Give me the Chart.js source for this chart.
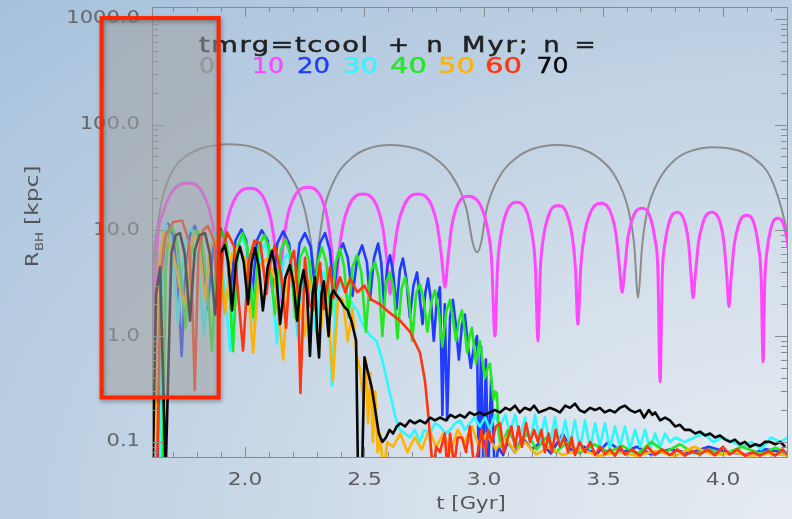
<!DOCTYPE html>
<html>
<head>
<meta charset="utf-8">
<script src="https://cdn.jsdelivr.net/npm/chart.js@4.4.1/dist/chart.umd.min.js"></script>
<style>
  html, body { margin: 0; padding: 0; }
  body {
    width: 792px; height: 519px; overflow: hidden;
    background: radial-gradient(ellipse at 100% 100%, #e6ecf2 0%, #d8e2ec 30%, #c8d7e6 50%, #bacee2 70%, #a5c1dc 100%);
  }
</style>
</head>
<body>
<canvas id="chart" width="792" height="519"></canvas>
<script>
// axis ranges and labels
const xMin = 1.611, xMax = 4.268;
const yMin = 0.072, yMax = 1290;
const xTickVals = [2.0, 2.5, 3.0, 3.5, 4.0];
const yTickVals = [0.1, 1, 10, 100, 1000];
const yTickText = ['0.1', '1.0', '10.0', '100.0', '1000.0'];
const nLabels = ['0', '10', '20', '30', '40', '50', '60', '70'];
// highlighted region, in data units
const boxT = [1.40, 1.89];
const boxR = [0.263, 1014];

// R_BH [kpc] vs t [Gyr], one run per delay n (Myr)
const n0 = [[1.611,0.45],[1.615,3],[1.632,10],[1.652,19],[1.674,28],[1.705,39],[1.741,48],[1.812,59],[1.87,63],[1.925,65],
  [2.035,61],[2.109,51],[2.186,34],[2.249,16],[2.275,8],[2.293,4],
  [2.309,7.6],[2.331,15.8],[2.384,33],[2.45,49],[2.513,59],[2.607,64],[2.716,59],[2.789,49],[2.865,33],[2.927,15.8],[2.953,7.6],[2.971,6.2],
  [2.988,7.6],[3.011,15.8],[3.068,33],[3.139,49],[3.206,59],[3.306,64],[3.408,59],[3.475,49],[3.547,33],[3.604,15.8],[3.628,7.6],[3.645,2.3],
  [3.662,7.2],[3.683,15],[3.736,31],[3.802,47],[3.864,56],[3.958,61],[4.061,57],[4.129,48],[4.201,31],[4.259,12],[4.283,6]];

const n10 = [[1.614,0.5],[1.632,7],[1.657,14.6],[1.688,21.8],[1.718,26.3],[1.762,28],[1.801,26.3],[1.827,21.8],[1.854,14.6],[1.876,7],[1.891,1.5],
  [1.907,6.25],[1.929,13],[1.956,19.5],[1.982,23.5],[2.021,25],[2.057,23.5],[2.082,19.5],[2.107,13],[2.128,6.25],[2.142,2.0],
  [2.157,6.4],[2.177,13.3],[2.203,19.9],[2.227,24],[2.264,25.5],[2.298,24],[2.321,19.9],[2.344,13.3],[2.363,6.4],[2.377,2.5],
  [2.391,5.5],[2.411,11.4],[2.436,17.2],[2.459,20.7],[2.494,22],[2.528,20.7],[2.551,17.2],[2.574,11.4],[2.593,5.5],[2.607,2.5],
  [2.621,5.5],[2.641,11.4],[2.666,17.2],[2.689,20.7],[2.724,22],[2.758,20.7],[2.781,17.2],[2.804,11.4],[2.823,5.5],[2.837,2.9],
  [2.849,5.25],[2.865,10.9],[2.885,16.4],[2.904,19.7],[2.933,21],[2.967,19.7],[2.99,16.4],[3.013,10.9],[3.032,5.25],[3.046,1.0],
  [3.057,4.6],[3.073,9.6],[3.092,14.4],[3.11,17.3],[3.138,18.4],[3.164,17.3],[3.182,14.4],[3.2,9.6],[3.215,4.6],[3.226,0.9],
  [3.236,4.3],[3.25,8.9],[3.268,13.4],[3.285,16.2],[3.31,17.2],[3.335,16.2],[3.351,13.4],[3.369,8.9],[3.383,4.3],[3.393,1.3],
  [3.405,4.5],[3.421,9.4],[3.442,14],[3.461,16.9],[3.49,18],[3.516,16.9],[3.534,14],[3.552,9.4],[3.567,4.5],[3.578,2.6],
  [3.588,4.05],[3.602,8.4],[3.62,12.6],[3.636,15.2],[3.661,16.2],[3.684,15.2],[3.699,12.6],[3.715,8.4],[3.728,4.05],[3.737,0.37],
  [3.746,3.7],[3.758,7.7],[3.773,11.5],[3.787,13.9],[3.808,14.8],[3.828,13.9],[3.842,11.5],[3.856,7.7],[3.867,3.7],[3.875,2.3],
  [3.884,3.7],[3.898,7.7],[3.915,11.5],[3.93,13.9],[3.954,14.8],[3.975,13.9],[3.99,11.5],[4.004,7.7],[4.016,3.7],[4.025,1.9],
  [4.034,3.5],[4.047,7.2],[4.063,10.8],[4.078,13.1],[4.1,13.9],[4.12,13.1],[4.134,10.8],[4.148,7.2],[4.16,3.5],[4.168,0.57],
  [4.175,3.25],[4.186,6.8],[4.199,10.1],[4.211,12.2],[4.23,13],[4.248,12.2],[4.26,10.1],[4.273,6.8],[4.283,3.25]];

const n20 = [[1.64,0.05],[1.652,3],[1.662,8],[1.678,11.5],[1.70,9],[1.72,3],[1.735,0.65],[1.75,3.5],[1.77,9],[1.79,11],[1.815,8],[1.843,1.8],
  [1.87,8],[1.895,10.5],[1.92,8],[1.94,2.5],[1.96,8],[1.985,10.2],[2.005,8],[2.028,2.2],[2.05,8],[2.07,10],[2.095,8],[2.115,2.6],
  [2.135,7.5],[2.16,9.8],[2.185,7.5],[2.205,2.4],[2.228,7.5],[2.251,9.4],[2.275,7],[2.293,2.8],[2.313,7.5],[2.335,9.4],[2.355,6.5],[2.372,2.6],
  [2.39,6],[2.41,7.5],[2.43,5.5],[2.45,2.4],[2.47,5.5],[2.49,7.2],[2.51,5],[2.523,2.2],[2.54,5.5],[2.557,7.5],[2.57,5],[2.582,2.0],
  [2.595,4.5],[2.607,5.8],[2.62,4],[2.634,1.8],[2.648,4.2],[2.661,5.4],[2.675,3.5],[2.69,1.5],[2.705,3],[2.72,4.0],[2.73,2.5],[2.743,1.3],
  [2.755,2.6],[2.766,3.5],[2.778,2.2],[2.79,0.9],[2.803,2.2],[2.816,2.9],[2.826,0.18],[2.836,2.0],[2.846,0.16],[2.858,1.5],[2.87,2.2],
  [2.882,1.3],[2.895,0.6],[2.908,1.3],[2.92,1.6],[2.933,0.8],[2.945,0.5],[2.958,0.8],[2.971,1.0],[2.978,0.05],[2.988,0.8],[2.998,0.05],
  [3.008,0.6],[3.018,0.05],[3.03,0.4],[3.045,0.05],[3.06,0.09],[3.08,0.075],[3.10,0.1],[3.13,0.08],[3.16,0.11],[3.20,0.085],[3.24,0.1],
  [3.28,0.078],[3.33,0.12],[3.37,0.08],[3.42,0.09],[3.47,0.076],[3.52,0.1],[3.58,0.08],[3.64,0.09],[3.70,0.076],[3.78,0.085],[3.86,0.078],
  [3.94,0.09],[4.02,0.08],[4.10,0.076],[4.18,0.085],[4.28,0.078]];

const n30 = [[1.645,0.05],[1.655,6],[1.67,11.5],[1.69,8],[1.71,2.5],[1.72,1.3],[1.735,4],[1.755,9],[1.775,10.5],[1.795,8],[1.815,2.5],[1.83,1.0],
  [1.845,4],[1.86,8],[1.875,9.5],[1.895,7],[1.92,2],[1.937,0.73],[1.955,3.5],[1.975,7.5],[1.99,8.5],[2.01,6.5],[2.03,2.5],[2.04,1.2],
  [2.055,3.5],[2.07,6.5],[2.085,7.5],[2.105,5],[2.125,1.5],[2.134,0.85],[2.145,3],[2.165,5.5],[2.18,6],[2.2,4],[2.22,1.0],[2.24,3.5],
  [2.26,5],[2.278,3.5],[2.296,1.1],[2.313,3],[2.33,4],[2.347,2.5],[2.364,0.34],[2.38,2.2],[2.40,3.3],[2.42,2.6],[2.44,2.2],[2.455,1.9],
  [2.47,1.75],[2.485,1.4],[2.50,1.2],[2.525,1.0],[2.55,0.9],[2.565,0.7],[2.575,0.59],[2.59,0.42],[2.60,0.33],[2.615,0.24],[2.63,0.17],
  [2.648,0.13],[2.67,0.12],[2.69,0.11],[2.71,0.13],[2.732,0.1],[2.75,0.13],[2.774,0.12],[2.795,0.15],[2.816,0.14],[2.84,0.12],[2.858,0.13],
  [2.88,0.15],[2.9,0.16],[2.92,0.13],[2.941,0.15],[2.96,0.17],[2.983,0.14],[3.005,0.17],[3.025,0.13],[3.045,0.18],[3.067,0.14],[3.09,0.18],
  [3.109,0.12],[3.13,0.18],[3.151,0.11],[3.172,0.17],[3.193,0.1],[3.214,0.18],[3.234,0.1],[3.255,0.17],[3.276,0.095],[3.297,0.17],[3.318,0.09],
  [3.34,0.16],[3.36,0.09],[3.38,0.16],[3.402,0.085],[3.423,0.16],[3.444,0.085],[3.465,0.15],[3.485,0.09],[3.506,0.15],[3.527,0.085],
  [3.548,0.14],[3.569,0.09],[3.59,0.14],[3.611,0.085],[3.632,0.13],[3.653,0.09],[3.674,0.13],[3.695,0.085],[3.716,0.12],[3.737,0.09],
  [3.758,0.12],[3.778,0.1],[3.80,0.11],[3.84,0.1],[3.88,0.11],[3.92,0.12],[3.96,0.1],[4.0,0.11],[4.04,0.1],[4.08,0.09],[4.12,0.1],
  [4.16,0.085],[4.2,0.11],[4.24,0.1],[4.27,0.11]];

const n40 = [[1.655,0.05],[1.668,4],[1.68,9],[1.695,11],[1.715,8],[1.74,2.5],[1.752,1.2],[1.765,4],[1.785,9],[1.80,10],[1.82,8],[1.845,2.5],
  [1.862,0.73],[1.878,4],[1.895,8.5],[1.905,9.8],[1.925,7],[1.95,0.72],[1.97,7],[1.99,9.4],[2.01,7],[2.035,1.5],[2.058,7],[2.08,9.0],
  [2.10,7],[2.125,1.6],[2.15,6.5],[2.17,8.2],[2.19,6],[2.21,1.5],[2.23,5.5],[2.251,6.9],[2.27,5],[2.287,1.8],[2.305,5],[2.322,6.9],
  [2.34,5],[2.36,1.6],[2.38,5],[2.398,6.7],[2.415,4.5],[2.433,1.5],[2.45,4.5],[2.469,5.8],[2.487,4],[2.506,1.1],[2.525,4],[2.544,5.0],
  [2.56,3.5],[2.575,1.0],[2.59,3.2],[2.607,4.0],[2.622,2.8],[2.638,0.95],[2.655,2.8],[2.67,3.6],[2.685,2.5],[2.70,0.9],[2.716,2.5],
  [2.732,3.1],[2.748,2.2],[2.763,1.1],[2.78,2.1],[2.795,2.7],[2.81,1.8],[2.826,0.8],[2.842,1.7],[2.858,2.2],[2.87,1.5],[2.883,0.9],
  [2.895,1.4],[2.908,1.75],[2.92,1.1],[2.93,0.7],[2.94,1.0],[2.95,1.2],[2.958,0.8],[2.967,0.55],[2.975,0.75],[2.983,0.9],[2.993,0.6],
  [3.004,0.4],[3.015,0.5],[3.025,0.55],[3.033,0.35],[3.04,0.25],[3.047,0.3],[3.054,0.29],[3.062,0.12],[3.07,0.09],[3.10,0.13],[3.14,0.09],
  [3.18,0.12],[3.22,0.085],[3.26,0.11],[3.30,0.08],[3.35,0.1],[3.40,0.078],[3.46,0.095],[3.52,0.08],[3.58,0.092],[3.64,0.076],[3.70,0.1],
  [3.76,0.08],[3.82,0.095],[3.88,0.078],[3.94,0.085],[4.00,0.076],[4.08,0.09],[4.16,0.077],[4.22,0.088],[4.28,0.076]];

const n50 = [[1.628,0.05],[1.642,5],[1.66,9.5],[1.68,8],[1.70,6],[1.725,3],[1.749,2.0],[1.77,7],[1.79,9],[1.81,7],[1.833,2.2],[1.855,7],
  [1.875,8.5],[1.895,6],[1.916,1.65],[1.945,6],[1.975,7],[2.005,5],[2.034,0.7],[2.06,4.5],[2.095,5.5],[2.125,3.5],[2.16,0.6],[2.18,3.5],
  [2.2,4],[2.22,2.5],[2.25,1.0],[2.268,3.4],[2.29,2.5],[2.31,0.73],[2.335,3.1],[2.35,1.5],[2.368,0.38],[2.39,2.4],[2.41,2.2],[2.43,0.9],
  [2.45,1.8],[2.465,0.7],[2.48,0.5],[2.495,0.25],[2.505,0.6],[2.515,0.15],[2.525,0.45],[2.535,0.1],[2.545,0.3],[2.555,0.08],[2.565,0.12],
  [2.58,0.05],[2.595,0.1],[2.62,0.09],[2.65,0.12],[2.68,0.08],[2.71,0.11],[2.74,0.085],[2.77,0.13],[2.80,0.09],[2.83,0.12],[2.86,0.08],
  [2.89,0.13],[2.92,0.1],[2.95,0.14],[2.98,0.09],[3.01,0.12],[3.05,0.085],[3.09,0.11],[3.13,0.08],[3.17,0.1],[3.22,0.076],[3.27,0.09],
  [3.33,0.075],[3.40,0.085],[3.48,0.074],[3.56,0.08],[3.64,0.074],[3.72,0.082],[3.80,0.074],[3.88,0.09],[3.96,0.075],[4.04,0.08],
  [4.12,0.074],[4.2,0.078],[4.28,0.074]];

const n60 = [[1.632,0.05],[1.648,4],[1.668,9],[1.70,12],[1.737,12.4],[1.765,8],[1.78,2],[1.79,0.31],[1.805,6],[1.825,10],[1.845,11],[1.87,8],
  [1.89,1.5],[1.905,6],[1.925,9.6],[1.955,7],[1.975,2],[1.992,0.73],[2.015,5],[2.04,8],[2.065,7.5],[2.09,2.5],[2.105,5],[2.125,7.2],
  [2.15,4],[2.172,1.2],[2.19,5],[2.205,6.4],[2.222,2.5],[2.232,0.29],[2.251,5.5],[2.27,2.0],[2.285,1.75],[2.314,4.9],[2.33,1.8],[2.356,4.5],
  [2.37,2.3],[2.398,3.6],[2.42,2.6],[2.44,3.5],[2.47,2.6],[2.50,3.0],[2.53,2.2],[2.565,2.0],[2.60,1.7],[2.649,1.4],[2.69,1.1],[2.732,0.7],
  [2.753,0.38],[2.766,0.19],[2.787,0.05],[2.80,0.09],[2.816,0.08],[2.836,0.12],[2.848,0.05],[2.858,0.12],[2.875,0.06],[2.89,0.11],
  [2.908,0.11],[2.925,0.08],[2.941,0.14],[2.958,0.06],[2.975,0.08],[2.99,0.13],[3.004,0.07],[3.018,0.13],[3.033,0.1],[3.05,0.14],
  [3.067,0.15],[3.083,0.08],[3.1,0.11],[3.115,0.14],[3.13,0.09],[3.145,0.14],[3.159,0.09],[3.176,0.15],[3.193,0.1],[3.21,0.13],
  [3.226,0.1],[3.24,0.13],[3.255,0.08],[3.27,0.12],[3.285,0.08],[3.3,0.13],[3.318,0.09],[3.335,0.11],[3.352,0.08],[3.367,0.11],
  [3.381,0.075],[3.4,0.1],[3.423,0.08],[3.445,0.1],[3.465,0.075],[3.486,0.09],[3.506,0.077],[3.527,0.085],[3.548,0.074],[3.57,0.09],
  [3.59,0.076],[3.62,0.085],[3.653,0.074],[3.685,0.09],[3.716,0.075],[3.745,0.085],[3.778,0.075],[3.81,0.085],[3.841,0.074],[3.87,0.082],
  [3.904,0.076],[3.935,0.085],[3.966,0.075],[4.0,0.09],[4.029,0.076],[4.06,0.085],[4.092,0.074],[4.125,0.08],[4.155,0.074],[4.19,0.082],
  [4.218,0.074],[4.25,0.085],[4.268,0.076]];

const n70 = [[1.614,0.05],[1.628,2.5],[1.645,4.5],[1.668,0.05],[1.692,6],[1.71,9],[1.728,9.4],[1.748,6],[1.77,1.4],[1.79,6.5],[1.81,9],
  [1.833,9.4],[1.853,6],[1.875,1.6],[1.895,6],[1.916,7.2],[1.93,5],[1.946,1.75],[1.962,5],[1.979,7],[1.995,5],[2.013,2.0],[2.028,5],
  [2.042,6.8],[2.058,4.5],[2.075,1.75],[2.095,4.5],[2.113,6.4],[2.13,4],[2.147,1.3],[2.168,3.5],[2.188,4.7],[2.203,3.2],[2.218,1.4],
  [2.232,3],[2.245,4.2],[2.26,2.5],[2.272,0.65],[2.283,2.5],[2.293,3.6],[2.302,1.06],[2.31,0.63],[2.32,2.5],[2.33,3.3],[2.34,1.8],
  [2.35,1.0],[2.36,2.4],[2.37,2.7],[2.385,2.4],[2.398,2.2],[2.415,1.9],[2.43,1.75],[2.445,1.4],[2.465,0.91],[2.473,0.05],[2.49,0.05],
  [2.50,0.63],[2.515,0.45],[2.53,0.33],[2.545,0.2],[2.56,0.12],[2.575,0.1],[2.59,0.11],[2.605,0.13],[2.62,0.12],[2.635,0.14],[2.649,0.15],
  [2.67,0.14],[2.69,0.16],[2.71,0.15],[2.732,0.16],[2.755,0.15],[2.775,0.17],[2.795,0.16],[2.816,0.17],[2.84,0.16],[2.86,0.18],[2.88,0.17],
  [2.9,0.18],[2.92,0.17],[2.94,0.19],[2.96,0.18],[2.983,0.19],[3.0,0.18],[3.025,0.19],[3.045,0.2],[3.067,0.19],[3.09,0.21],[3.11,0.2],
  [3.13,0.22],[3.15,0.19],[3.17,0.21],[3.193,0.2],[3.21,0.22],[3.23,0.19],[3.255,0.2],[3.275,0.21],[3.3,0.2],[3.318,0.19],[3.34,0.22],
  [3.36,0.21],[3.381,0.23],[3.40,0.2],[3.42,0.19],[3.444,0.21],[3.465,0.2],[3.485,0.21],[3.505,0.19],[3.527,0.2],[3.548,0.19],[3.569,0.21],
  [3.59,0.22],[3.611,0.2],[3.632,0.19],[3.653,0.2],[3.67,0.17],[3.69,0.2],[3.705,0.18],[3.716,0.19],[3.737,0.16],[3.758,0.17],[3.778,0.16],
  [3.80,0.14],[3.82,0.145],[3.84,0.13],[3.862,0.13],[3.884,0.12],[3.904,0.125],[3.925,0.115],[3.946,0.12],[3.967,0.11],[3.988,0.115],
  [4.01,0.105],[4.03,0.1],[4.05,0.105],[4.071,0.095],[4.092,0.1],[4.113,0.09],[4.135,0.095],[4.155,0.092],[4.176,0.1],[4.197,0.1],
  [4.218,0.095],[4.24,0.1],[4.26,0.09]];

const runs = [n0, n10, n20, n30, n40, n50, n60, n70];
const runColors = ['#8c8c8c', '#ff47ff', '#1f3cff', '#2ef7ff', '#22e822', '#ffb300', '#ff3510', '#080808'];

const FONT = '"DejaVu Sans", sans-serif';

// draw str across x0..x1: widen the glyphs (between minScale and maxScale), then letter-space the rest
function wide(ctx, str, x0, x1, y, minScale, maxScale, bold) {
  ctx.letterSpacing = '0px';
  const w = ctx.measureText(str).width;
  const target = x1 - x0;
  const s = Math.max(minScale, Math.min(maxScale, target / w));
  let sp = str.length > 1 ? (target - w * s) / (str.length - 1) : 0;
  let left = x0;
  if (str.length === 1 || sp < 0) { sp = Math.max(sp, 0); left = x0 + (target - w * s - sp * (str.length - 1)) / 2; }
  ctx.save();
  ctx.translate(left, y);
  ctx.scale(s, 1);
  ctx.textAlign = 'left';
  ctx.letterSpacing = (sp / s).toFixed(2) + 'px';
  ctx.fillText(str, 0, 0);
  if (bold) {
    ctx.strokeStyle = ctx.fillStyle;
    ctx.lineWidth = bold;
    ctx.strokeText(str, 0, 0);
  }
  ctx.restore();
  ctx.letterSpacing = '0px';
}

// widened text anchored by its left edge, right edge or centre
function wideAt(ctx, str, x, y, scale, align) {
  ctx.letterSpacing = '0px';
  const w = ctx.measureText(str).width * scale;
  const x0 = align === 'right' ? x - w : (align === 'center' ? x - w / 2 : x);
  wide(ctx, str, x0, x0 + w, y, scale, scale, 0);
  return w;
}

const decorations = {
  id: 'decorations',
  afterDatasetsDraw(chart) {
    const { ctx, chartArea: a } = chart;
    const xs = chart.scales.x, ys = chart.scales.y;
    ctx.save();

    // frame
    ctx.strokeStyle = '#8a8a8a';
    ctx.lineWidth = 1;
    ctx.strokeRect(Math.round(a.left) + 0.5, Math.round(a.top) + 0.5,
      Math.round(a.right - a.left), Math.round(a.bottom - a.top));

    const seg = (x1, y1, x2, y2) => { ctx.beginPath(); ctx.moveTo(x1, y1); ctx.lineTo(x2, y2); ctx.stroke(); };

    // y ticks (inward, both sides)
    for (let e = -2; e <= 3; e++) {
      for (let k = 1; k <= 9; k++) {
        const v = k * Math.pow(10, e);
        if (v < yMin || v > yMax) continue;
        const py = Math.round(ys.getPixelForValue(v)) + 0.5;
        const len = k === 1 ? 12 : 6;
        seg(a.left, py, a.left + len, py);
        seg(a.right, py, a.right - len, py);
      }
    }
    // x ticks (inward, top and bottom)
    for (let i = 17; i <= 42; i++) {
      const px = Math.round(xs.getPixelForValue(i / 10)) + 0.5;
      const len = i % 5 === 0 ? 10 : 5;
      seg(px, a.bottom, px, a.bottom - len);
      seg(px, a.top, px, a.top + len);
    }

    // tick labels
    ctx.fillStyle = '#666666';
    ctx.font = '17px ' + FONT;
    ctx.textBaseline = 'middle';
    yTickVals.forEach((v, i) => {
      wideAt(ctx, yTickText[i], 140, ys.getPixelForValue(v), 1.24, 'right');
    });
    ctx.fillStyle = '#5e5e5e';
    xTickVals.forEach(v => {
      wideAt(ctx, v.toFixed(1), xs.getPixelForValue(v), 481, 1.28, 'center');
    });

    // axis titles
    ctx.fillStyle = '#555555';
    ctx.font = '18px ' + FONT;
    ctx.textBaseline = 'middle';
    wideAt(ctx, 't [Gyr]', 471, 504, 1.18, 'center');

    ctx.save();
    ctx.translate(38, 267);
    ctx.rotate(-Math.PI / 2);
    ctx.textBaseline = 'alphabetic';
    ctx.font = '18px ' + FONT;
    let w = wideAt(ctx, 'R', 0, 0, 1.2, 'left') + 1;
    ctx.font = '11px ' + FONT;
    w += wideAt(ctx, 'BH', w, 5, 1.2, 'left') + 7;
    ctx.font = '18px ' + FONT;
    wideAt(ctx, '[kpc]', w, 0, 1.3, 'left');
    ctx.restore();

    // legend text
    ctx.textBaseline = 'alphabetic';
    ctx.font = '21px ' + FONT;
    ctx.fillStyle = '#222222';
    const words = [['tmrg=tcool', 199, 368], ['+', 390, 407], ['n', 428, 441], ['Myr;', 462, 528], ['n', 545, 558], ['=', 577, 593]];
    words.forEach(wd => wide(ctx, wd[0], wd[1], wd[2], 52, 1.2, 1.3, 0.5));
    const numSpan = [[199, 215], [252, 284], [297, 330], [343, 378], [390, 427], [438, 475], [485, 522], [537, 568]];
    nLabels.forEach((lab, i) => {
      ctx.fillStyle = runColors[i];
      wide(ctx, lab, numSpan[i][0], numSpan[i][1], 73, 1.2, 1.42, 0.4);
    });

    // highlighted region
    const bx0 = xs.getPixelForValue(boxT[0]), bx1 = xs.getPixelForValue(boxT[1]);
    const by0 = ys.getPixelForValue(boxR[1]), by1 = ys.getPixelForValue(boxR[0]);
    ctx.fillStyle = 'rgba(160,160,160,0.55)';
    ctx.fillRect(bx0, by0, bx1 - bx0, by1 - by0);
    ctx.shadowColor = 'rgba(0,0,0,0.35)';
    ctx.shadowBlur = 4;
    ctx.shadowOffsetX = 1;
    ctx.shadowOffsetY = 2;
    ctx.strokeStyle = '#ff2600';
    ctx.lineWidth = 4;
    ctx.strokeRect(bx0, by0, bx1 - bx0, by1 - by0);

    ctx.restore();
  }
};

const datasets = runs.map((run, i) => ({
  label: 'n = ' + nLabels[i],
  data: run.map(p => ({ x: p[0], y: p[1] })),
  borderColor: runColors[i],
  borderWidth: i === 0 ? 2 : (i === 1 ? 3 : 2.6),
  pointRadius: 0,
  tension: 0,
  cubicInterpolationMode: i < 2 ? 'monotone' : 'default',
  borderJoinStyle: 'round',
  order: runs.length - 1 - i
}));

new Chart(document.getElementById('chart'), {
  type: 'line',
  data: { datasets },
  options: {
    responsive: false,
    animation: false,
    events: [],
    layout: { padding: { left: 152, right: 5, top: 7, bottom: 62 } },
    plugins: { legend: { display: false }, tooltip: { enabled: false } },
    scales: {
      x: { type: 'linear', min: xMin, max: xMax, display: false },
      y: { type: 'logarithmic', min: yMin, max: yMax, display: false }
    }
  },
  plugins: [decorations]
});
</script>
</body>
</html>
